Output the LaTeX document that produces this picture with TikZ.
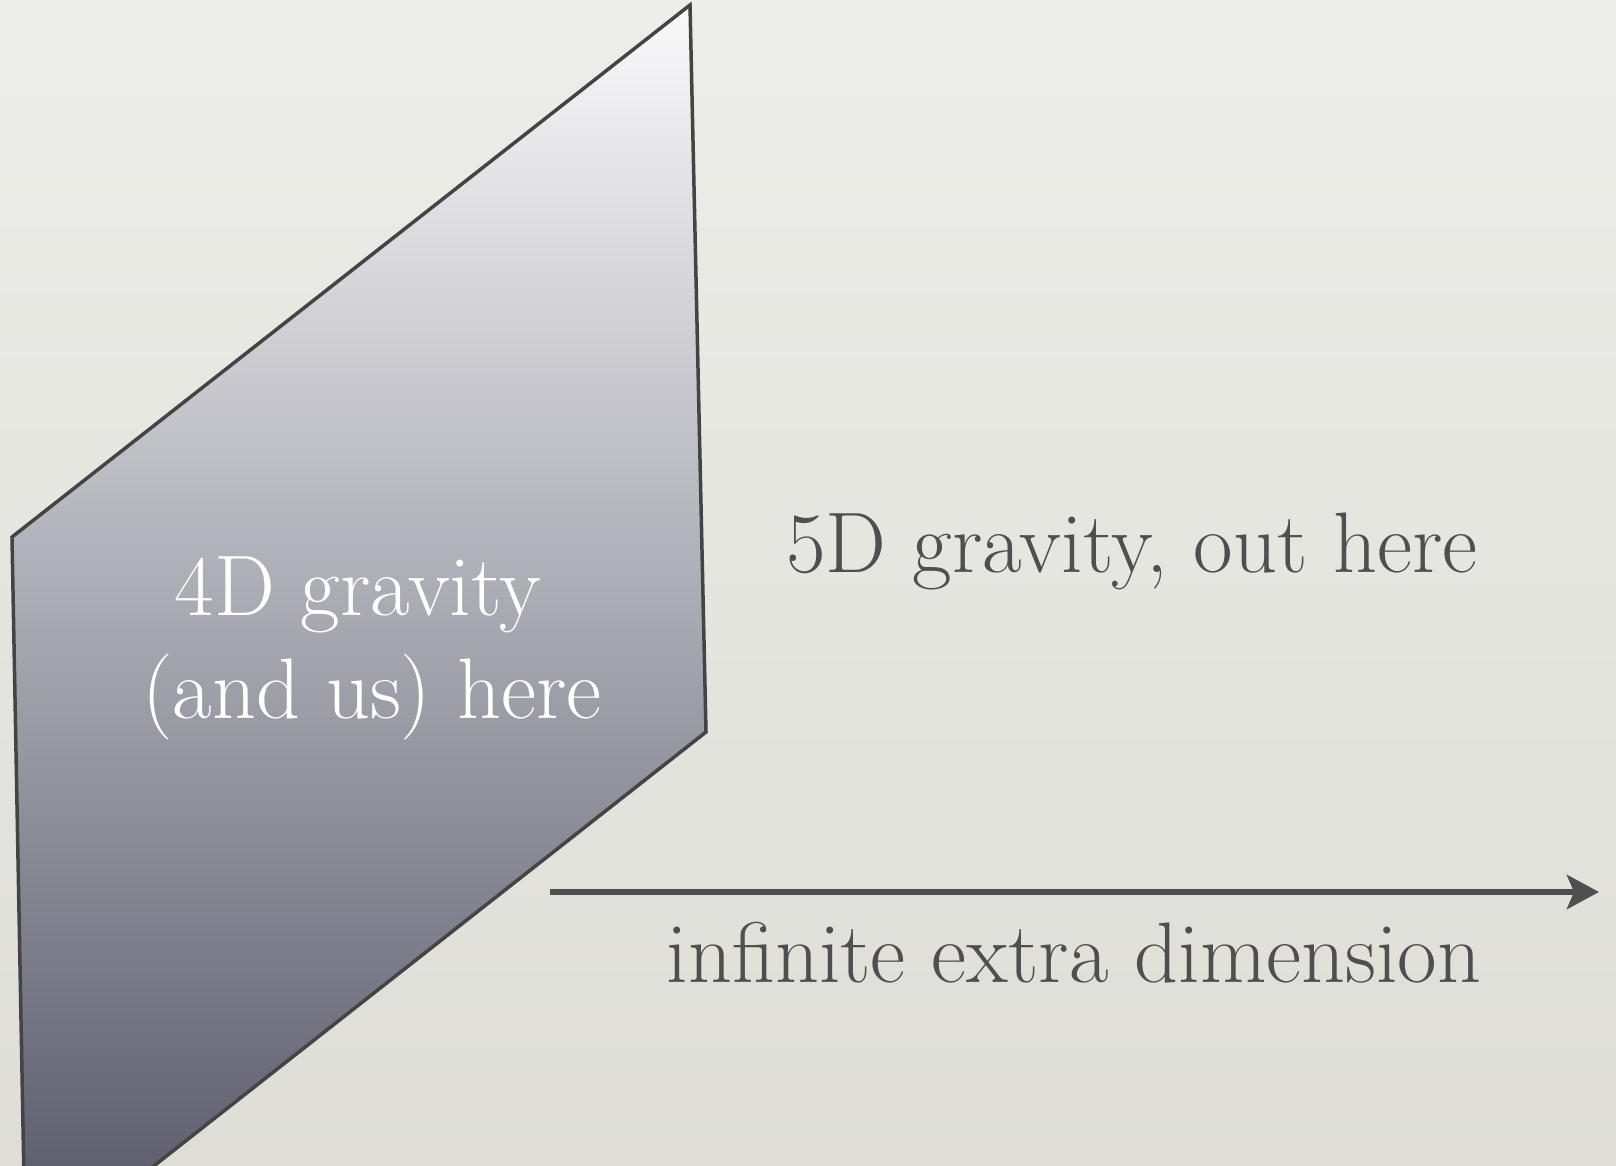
\documentclass[tikz,border=0pt]{standalone}
\usetikzlibrary{arrows.meta}
\definecolor{bgtop}{HTML}{EDEDE9}
\definecolor{bgbot}{HTML}{DEDED7}
\definecolor{brtop}{HTML}{FAFAFB}
\definecolor{brbot}{HTML}{5E5E6F}
\definecolor{edge}{HTML}{444444}
\definecolor{ink}{HTML}{4F4F4F}
\tikzset{
  lbl/.style={anchor=base, inner sep=0pt, font=\fontsize{86}{98}\selectfont},
  outlbl/.style={lbl, text=ink},
  inlbl/.style={lbl, text=white},
  braneedge/.style={draw=edge, line width=3.5pt, line join=miter},
  axis/.style={draw=ink, line width=6pt, -{Stealth[length=32pt, width=34pt, inset=7pt]}}
}
\begin{document}
\begin{tikzpicture}[x=1pt, y=-1pt]
\useasboundingbox (0,0) rectangle (1616,1166);
\clip (0,0) rectangle (1616,1166);
\shade[top color=bgtop, bottom color=bgbot] (0,0) rectangle (1616,1166);
% brane
\coordinate (p1) at (24,1180);
\coordinate (p2) at (12,537);
\coordinate (p3) at (690,5);
\coordinate (p4) at (706,732);
\coordinate (p5) at (136,1180);
\shade[top color=brtop, bottom color=brbot] (p1) -- (p2) -- (p3) -- (p4) -- (p5) -- cycle;
\draw[braneedge] (p1) -- (p2) -- (p3) -- (p4) -- (p5);
% texts
\node[inlbl] (t1) at (358,615) {4D gravity};
\node[inlbl] (t2) at (372,718) {(and us) here};
\node[outlbl] (t3) at (1132,572) {5D gravity, out here};
\node[outlbl] (t4) at (1074,982) {infinite extra dimension};
% axis
\coordinate (a0) at (550,892);
\coordinate (a1) at (1599,892);
\draw[axis] (a0) -- (a1);
\end{tikzpicture}
\end{document}
